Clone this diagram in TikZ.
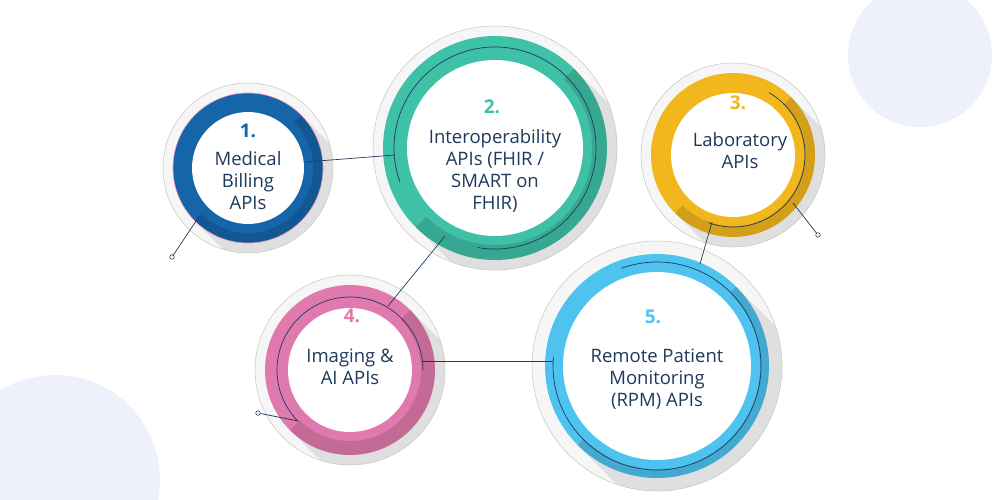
\documentclass[tikz,border=0pt]{standalone}
\usepackage{fontspec}
\setmainfont{Open Sans}
\begin{document}
\definecolor{cblue}{HTML}{1565A8}
\definecolor{cteal}{HTML}{3FC1A7}
\definecolor{cyel}{HTML}{F2B71C}
\definecolor{cpink}{HTML}{E07AAE}
\definecolor{csky}{HTML}{4EC3F0}
\definecolor{navy}{HTML}{1F3A5C}
\definecolor{bgl}{HTML}{EEF0FC}
\begin{tikzpicture}[x=1pt,y=-1pt,
  lbl/.style={align=center,text=navy,font=\fontsize{18.5}{22}\selectfont},
  num/.style={font=\bfseries\fontsize{19}{21}\selectfont},
  conn/.style={draw=navy,line width=0.7pt},
  dotend/.style={circle,draw=navy,fill=white,inner sep=1.6pt,line width=0.6pt}]
\useasboundingbox (0,0) rectangle (1000,500);
\fill[white] (0,0) rectangle (1000,500);
\fill[bgl] (920,55) circle (72);
\fill[bgl] (55,480) circle (105);
\newcommand{\ringdraw}[6]{%
  \fill[gray!7] (#1,#2) circle (#3);
  \begin{scope}
   \clip (#1,#2) circle (#3);
   \fill[gray!25] (#1,#2) ++(-45:#4) -- ++(45:#4*2) -- ++(135:#4*2) -- ++(-135:#4*2) -- cycle;
  \end{scope}
  \draw[gray!45,line width=0.5pt] (#1,#2) circle (#3);
  \fill[#6] (#1,#2) circle (#4);
  \fill[black,opacity=0.13] (#1,#2) ++(-45:#4) arc (-45:135:#4) -- cycle;
  \fill[#6] (#1,#2) circle (#5+9);
  \fill[white] (#1,#2) circle (#5);}
\ringdraw{248}{168}{85}{75}{56}{cblue}
\draw[cpink!80,line width=0.6pt] (248,168) circle (75);
\ringdraw{495}{148}{122}{112}{88}{cteal}
\ringdraw{733}{155}{92}{82}{62}{cyel}
\ringdraw{350}{370}{95}{85}{62}{cpink}
\ringdraw{657}{366}{125}{112}{94}{csky}
% inner arcs
\draw[conn] (495,148) ++(-200:101) arc (-200:100:101);
\draw[conn] (733,155) ++(-60:72) arc (-60:110:72);
\draw[conn] (350,370) ++(-225:73) arc (-225:0:73);
\draw[conn] (657,366) ++(185:104) arc (185:-110:104);
% connectors
\coordinate (a1) at (305,162);
\coordinate (a2) at (395,155);
\draw[conn] (a1) -- (a2);
\coordinate (b1) at (200,215);
\node[dotend] (e1) at (172,257) {};
\draw[conn] (b1) -- (e1);
\coordinate (c1) at (445,236);
\coordinate (c2) at (388,306);
\draw[conn] (c1) -- (c2);
\coordinate (d1) at (712,222);
\coordinate (d2) at (700,264);
\draw[conn] (d1) -- (d2);
\coordinate (f1) at (793,203);
\node[dotend] (e3) at (818,235) {};
\draw[conn] (f1) -- (e3);
\coordinate (g1) at (423,361);
\coordinate (g2) at (553,361);
\draw[conn] (g1) -- (g2);
\node[dotend] (e4) at (258,413) {};
\coordinate (h1) at (298,421);
\draw[conn] (h1) -- (e4);
% labels
\node[num,text=cblue] (n1) at (248,131) {1.};
\node[lbl] (t1) at (248,181) {Medical\\Billing\\APIs};
\node[num,text=cteal] (n2) at (492,107) {2.};
\node[lbl] (t2) at (495,171) {Interoperability\\APIs (FHIR /\\SMART on\\FHIR)};
\node[num,text=cyel] (n3) at (738,103) {3.};
\node[lbl] (t3) at (740,151) {Laboratory\\APIs};
\node[num,text=cpink] (n4) at (352,316) {4.};
\node[lbl] (t4) at (350,367) {Imaging \&\\AI APIs};
\node[num,text=csky] (n5) at (653,317) {5.};
\node[lbl] (t5) at (657,379) {Remote Patient\\Monitoring\\(RPM) APIs};
\end{tikzpicture}
\end{document}
